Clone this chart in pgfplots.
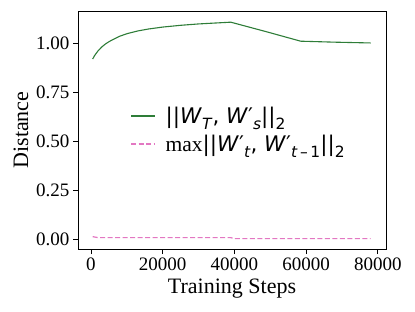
\documentclass[border=0pt]{standalone}
\usepackage{fontspec}
\setmainfont{Liberation Serif}
\newfontfamily\djv{DejaVu Sans}
\usepackage{pgfplots}
\pgfplotsset{compat=1.18}
\definecolor{lgreen}{RGB}{46,125,56}
\definecolor{lpink}{RGB}{227,119,194}
\newcommand{\sub}[1]{\raisebox{-0.28em}{\scalebox{0.72}{#1}}}
\newcommand{\prm}{{\char"2032}}
\begin{document}
\begin{tikzpicture}
\begin{axis}[
  scale only axis,
  width=308pt, height=238pt,
  xmin=-3600, xmax=82300,
  ymin=-0.051, ymax=1.163,
  xtick={0,20000,40000,60000,80000},
  ytick={0,0.25,0.5,0.75,1.0},
  yticklabels={0.00,0.25,0.50,0.75,1.00},
  xticklabels={0,20000,40000,60000,80000},
  scaled x ticks=false,
  /pgf/number format/assume math mode=true,
  tick align=outside,
  major tick length=5pt,
  xtick pos=bottom, ytick pos=left,
  tick style={black, line width=0.8pt},
  axis line style={line width=0.8pt},
  ticklabel style={font=\fontsize{19}{21}\selectfont},
  xlabel={Training Steps},
  ylabel={Distance},
  label style={font=\fontsize{22}{24}\selectfont},
  xlabel style={yshift=-2pt},
  ylabel style={yshift=1pt},
  legend style={draw=none, fill=none, at={(0.16,0.5)}, anchor=west,
    font=\fontsize{21.5}{23}\selectfont, row sep=6pt,
    nodes={inner xsep=10pt}},
  legend cell align=left,
  legend image code/.code={\draw[#1] (0pt,0pt) -- (24pt,0pt);},
]
\addplot[lgreen, line width=1.1pt] coordinates {
(500,0.918) (1000,0.935) (2000,0.960) (3000,0.979) (4000,0.994) (5000,1.006) (6000,1.016) (8000,1.034) (10000,1.047) (13000,1.061) (16000,1.071) (20000,1.081) (25000,1.090) (30000,1.097) (35000,1.102) (39000,1.106) (49000,1.057) (58500,1.009) (68000,1.004) (78000,1.000)
};
\addlegendentry{{\djv ||\textit{W}\sub{\textit{T}}, \textit{W}\prm\sub{\textit{s}}||\sub{2}}}
\addplot[lpink, line width=1.2pt, dash pattern=on 5pt off 2.5pt] coordinates {
(500,0.012) (2000,0.007) (20000,0.007) (39000,0.007) (40000,0.002) (60000,0.002) (78000,0.002)
};
\addlegendentry{max{\djv ||\textit{W}\prm\sub{\textit{t}}, \textit{W}\prm\sub{\textit{t}\,\textendash\,1}||\sub{2}}}
\end{axis}
\path[use as bounding box] ([xshift=-78pt,yshift=-62pt]current axis.south west) rectangle ([xshift=29pt,yshift=11pt]current axis.north east);
\end{tikzpicture}
\end{document}
